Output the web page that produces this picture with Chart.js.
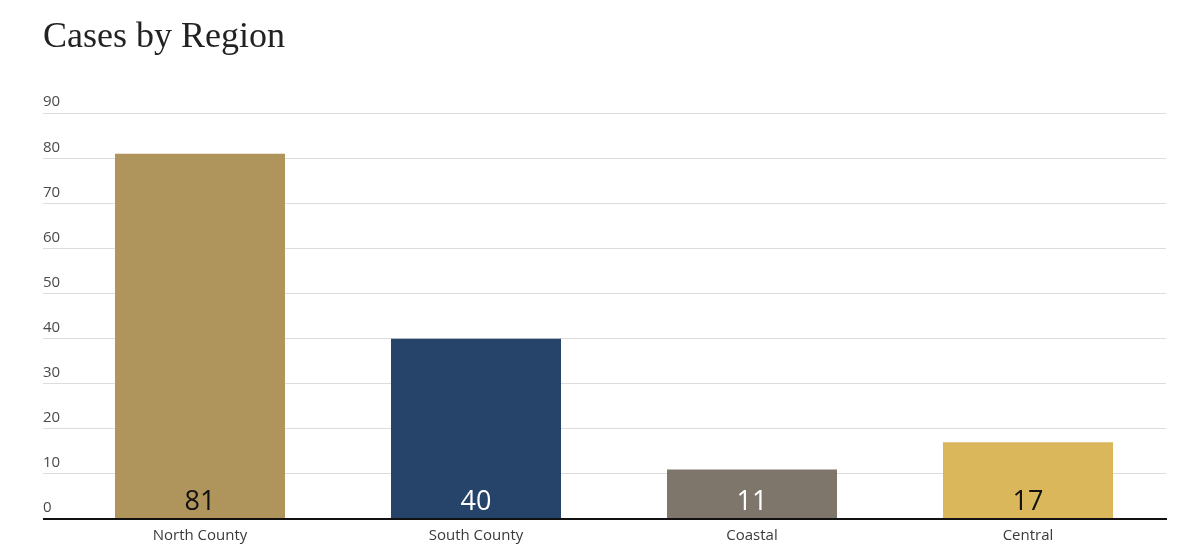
<!DOCTYPE html>
<html>
<head>
<meta charset="utf-8">
<script src="https://cdn.jsdelivr.net/npm/chart.js@4"></script>
<style>
  html, body { margin: 0; padding: 0; background: #fff; }
  #wrap { width: 1200px; height: 548px; position: relative; }
</style>
</head>
<body>
<div id="wrap"><canvas id="c"></canvas></div>
<script>
const categories = ["North County", "South County", "Coastal", "Central"];
const cases = [81, 40, 11, 17];
const barColors = ["#AF955C", "#26436A", "#7F766B", "#D9B75A"];
const labelColors = ["#111111", "#FFFFFF", "#FFFFFF", "#111111"];
const yTickMin = 0, yTickMax = 90, yTickStep = 10;

const SANS = "'Open Sans', 'Noto Sans', sans-serif";

const barValueLabels = {
  id: 'barValueLabels',
  afterDatasetsDraw(chart) {
    const ctx = chart.ctx;
    const meta = chart.getDatasetMeta(0);
    ctx.save();
    ctx.font = "27px " + SANS;
    ctx.textAlign = 'center';
    ctx.textBaseline = 'middle';
    meta.data.forEach((bar, i) => {
      ctx.fillStyle = labelColors[i];
      ctx.fillText(String(cases[i]), bar.x, bar.base - 16);
    });
    ctx.restore();
  }
};

new Chart(document.getElementById('c'), {
  type: 'bar',
  data: {
    labels: categories,
    datasets: [{
      data: cases,
      backgroundColor: barColors,
      borderWidth: 0,
      barPercentage: 0.616,
      categoryPercentage: 1.0
    }]
  },
  options: {
    responsive: true,
    maintainAspectRatio: false,
    animation: false,
    layout: { padding: { left: 43, right: 34, top: 0, bottom: 0 } },
    plugins: {
      legend: { display: false },
      tooltip: { enabled: false },
      title: {
        display: true,
        text: 'Cases by Region',
        align: 'start',
        color: '#222',
        font: { family: "'Liberation Serif', 'Times New Roman', serif", size: 36, weight: 'normal', lineHeight: 1.2 },
        padding: { top: 16, bottom: 54 }
      }
    },
    scales: {
      x: {
        z: 1,
        grid: { display: false, drawTicks: false },
        border: { display: true, color: '#111', width: 2 },
        ticks: { color: '#3a3a3a', font: { family: SANS, size: 15, lineHeight: 1 }, padding: 9 },
        afterFit(scale) { scale.height = 29; }
      },
      y: {
        min: yTickMin,
        max: yTickMax,
        border: { display: false },
        grid: {
          color: (c) => (c.tick && c.tick.value === 0) ? '#111' : '#dcdcdc',
          lineWidth: (c) => (c.tick && c.tick.value === 0) ? 2 : 1,
          tickLength: 19,
          drawTicks: true
        },
        ticks: {
          stepSize: yTickStep,
          mirror: true,
          padding: -19,
          labelOffset: -11,
          color: '#4a4a4a',
          font: { family: SANS, size: 15 }
        },
        afterFit(scale) { scale.width = 19; }
      }
    }
  },
  plugins: [barValueLabels]
});
</script>
</body>
</html>
